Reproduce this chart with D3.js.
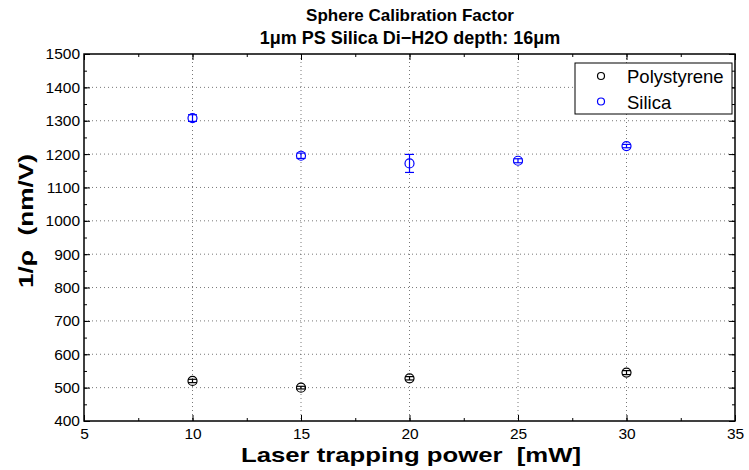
<!DOCTYPE html>
<html>
<head>
<meta charset="utf-8">
<script src="https://cdn.jsdelivr.net/npm/d3@7"></script>
<style>
  body { margin: 0; background: #fff; }
  svg { font-family: "Liberation Sans", Arial, sans-serif; }
  text { white-space: pre; }
</style>
</head>
<body>
<svg id="chart" width="749" height="470"></svg>
<script>
const powers = [10, 15, 20, 25, 30];
const silica = [1308, 1195, 1172, 1180, 1224];
const silicaErr = [10, 8, 27, 6, 5];
const psPowers = [10, 15, 20, 30];
const polystyrene = [520, 500, 528, 545];
const psErr = [5, 4, 5, 6];
const xTicks = [5, 10, 15, 20, 25, 30, 35];
const yTicks = [400, 500, 600, 700, 800, 900, 1000, 1100, 1200, 1300, 1400, 1500];

const svg = d3.select("#chart");
const plotL = 84, plotR = 735, plotT = 54, plotB = 421;

const x = d3.scaleLinear().domain([5, 35]).range([plotL, plotR]);
const y = d3.scaleLinear().domain([400, 1500]).range([plotB, plotT]);

// dotted grid
svg.append("g")
  .selectAll("line")
  .data(xTicks.slice(1, -1))
  .join("line")
  .attr("x1", (d) => x(d)).attr("x2", (d) => x(d))
  .attr("y1", plotT).attr("y2", plotB)
  .attr("stroke", "#555").attr("stroke-width", 0.8)
  .attr("stroke-dasharray", "1,3");
svg.append("g")
  .selectAll("line")
  .data(yTicks.slice(1, -1))
  .join("line")
  .attr("x1", plotL).attr("x2", plotR)
  .attr("y1", (d) => y(d)).attr("y2", (d) => y(d))
  .attr("stroke", "#555").attr("stroke-width", 0.8)
  .attr("stroke-dasharray", "1,3");

// axes (ticks inside, like matlab)
function styleAxis(g) {
  g.selectAll(".domain").remove();
  g.selectAll(".tick line").attr("stroke", "#000");
  g.selectAll("text").style("font-size", "15.5px").attr("fill", "#000");
}
const xMinor = d3.range(5, 35.01, 2.5);
const yMinor = d3.range(400, 1500.01, 50);

svg.append("g")
  .attr("transform", `translate(0,${plotB})`)
  .call(d3.axisBottom(x).tickValues(xTicks).tickSize(-6).tickPadding(7).tickFormat(d3.format("d")))
  .call(styleAxis);
svg.append("g")
  .attr("transform", `translate(0,${plotB})`)
  .call(d3.axisBottom(x).tickValues(xMinor).tickSize(-3).tickFormat(""))
  .call(styleAxis);
svg.append("g")
  .attr("transform", `translate(0,${plotT})`)
  .call(d3.axisTop(x).tickValues(xTicks).tickSize(-6).tickFormat(""))
  .call(styleAxis);
svg.append("g")
  .attr("transform", `translate(0,${plotT})`)
  .call(d3.axisTop(x).tickValues(xMinor).tickSize(-3).tickFormat(""))
  .call(styleAxis);
svg.append("g")
  .attr("transform", `translate(${plotL},0)`)
  .call(d3.axisLeft(y).tickValues(yTicks).tickSize(-6).tickPadding(4).tickFormat(d3.format("d")))
  .call(styleAxis);
svg.append("g")
  .attr("transform", `translate(${plotL},0)`)
  .call(d3.axisLeft(y).tickValues(yMinor).tickSize(-3).tickFormat(""))
  .call(styleAxis);
svg.append("g")
  .attr("transform", `translate(${plotR},0)`)
  .call(d3.axisRight(y).tickValues(yTicks).tickSize(-6).tickFormat(""))
  .call(styleAxis);
svg.append("g")
  .attr("transform", `translate(${plotR},0)`)
  .call(d3.axisRight(y).tickValues(yMinor).tickSize(-3).tickFormat(""))
  .call(styleAxis);

svg.append("rect")
  .attr("x", plotL).attr("y", plotT)
  .attr("width", plotR - plotL).attr("height", plotB - plotT)
  .attr("fill", "none").attr("stroke", "#000").attr("stroke-width", 1.5);

// series with error bars
function drawSeries(xs, ys, errs, color) {
  const g = svg.append("g").attr("stroke", color).attr("fill", "none").attr("stroke-width", 1.2);
  xs.forEach((xv, i) => {
    const cx = x(xv);
    const lo = y(ys[i] - errs[i]);
    const hi = y(ys[i] + errs[i]);
    g.append("line").attr("x1", cx).attr("x2", cx).attr("y1", lo).attr("y2", hi);
    g.append("line").attr("x1", cx - 4.5).attr("x2", cx + 4.5).attr("y1", lo).attr("y2", lo);
    g.append("line").attr("x1", cx - 4.5).attr("x2", cx + 4.5).attr("y1", hi).attr("y2", hi);
    g.append("circle").attr("cx", cx).attr("cy", y(ys[i])).attr("r", 4.5);
  });
}
drawSeries(psPowers, polystyrene, psErr, "#000");
drawSeries(powers, silica, silicaErr, "#0000ff");

// legend
const legend = svg.append("g");
legend.append("rect")
  .attr("x", 575).attr("y", 63).attr("width", 157).attr("height", 51)
  .attr("fill", "#fff").attr("stroke", "#000").attr("stroke-width", 1);
const legendItems = [["Polystyrene", "#000"], ["Silica", "#0000ff"]];
legendItems.forEach(([name, color], i) => {
  legend.append("circle").attr("cx", 601).attr("cy", 76 + i * 25.5).attr("r", 3.5)
    .attr("fill", "none").attr("stroke", color).attr("stroke-width", 1.2);
  legend.append("text").attr("x", 627).attr("y", 83 + i * 25.5)
    .style("font-size", "18.5px").text(name);
});

// titles
svg.append("text").attr("x", 410).attr("y", 21).attr("text-anchor", "middle")
  .style("font-size", "17px").style("font-weight", "bold").text("Sphere Calibration Factor");
svg.append("text").attr("x", 410).attr("y", 44).attr("text-anchor", "middle")
  .style("font-size", "18px").style("font-weight", "bold").text("1μm PS Silica Di\u2212H2O depth: 16μm");
svg.append("text").attr("x", 411).attr("y", 462).attr("text-anchor", "middle")
  .attr("textLength", 340).attr("lengthAdjust", "spacingAndGlyphs")
  .style("font-size", "21px").style("font-weight", "bold").text("Laser trapping power  [mW]");
svg.append("text").attr("transform", "translate(33,221) rotate(-90)").attr("text-anchor", "middle")
  .attr("textLength", 134).attr("lengthAdjust", "spacingAndGlyphs")
  .style("font-size", "20px").style("font-weight", "bold").text("1/ρ  (nm/V)");
</script>
</body>
</html>
